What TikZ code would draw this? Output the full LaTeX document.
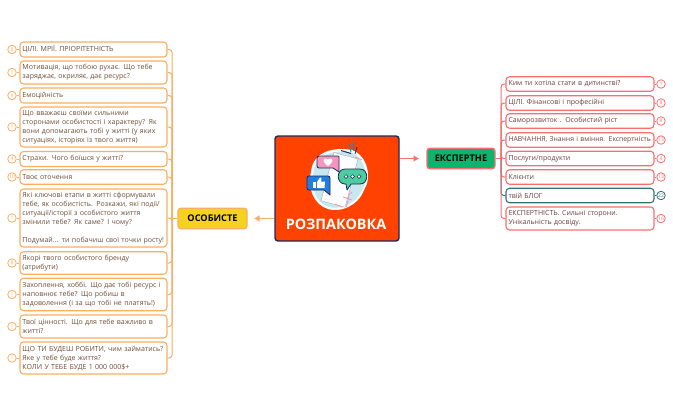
\documentclass[tikz,border=0pt]{standalone}
\usepackage{fontspec}
\setmainfont{Open Sans}
\usetikzlibrary{arrows.meta}
\definecolor{orl}{HTML}{F9AE62}
\definecolor{rdl}{HTML}{F96F6F}
\definecolor{tealn}{HTML}{2F7472}
\definecolor{txl}{HTML}{6E4E38}
\definecolor{txr}{HTML}{703E40}
\definecolor{navy}{HTML}{1B2A5A}
\definecolor{centerfill}{RGB}{255,66,0}
\definecolor{yel}{RGB}{245,210,30}
\definecolor{grn}{RGB}{12,180,110}
\definecolor{blu}{RGB}{35,125,225}
\definecolor{mint}{RGB}{75,205,160}
\definecolor{pinkb}{RGB}{245,150,190}
\definecolor{blob}{RGB}{200,232,240}
\definecolor{swirl}{RGB}{245,150,180}
\tikzset{x=1pt,y=-1pt,
 leaf/.style={draw=#1,fill=white,line width=1.1pt,rounded corners=3.5pt,inner xsep=2.5pt,inner ysep=0pt,align=left,
   font=\fontsize{7}{9}\selectfont,anchor=center},
 leafl/.style={leaf=orl,text=txl,text width=142pt},
 leafr/.style={leaf=rdl,text=txr,text width=143pt},
 badge/.style={circle,draw=#1,fill=white,line width=.8pt,minimum size=8.5pt,inner sep=0pt,text=#1,font=\fontsize{5}{5}\selectfont},
 conn/.style={draw=#1,line width=1pt,rounded corners=3pt},
 mainarrow/.style={draw=#1,line width=1.1pt,-{Latex[length=5.5pt,width=7pt]}},
 topic/.style={draw=#1,line width=1.4pt,rounded corners=3pt,minimum height=20.5pt,inner sep=0pt,font=\fontsize{9.2}{11}\bfseries\selectfont,text=black},
 icn/.style={draw=navy,line width=.8pt,line join=round},
}
\newcommand{\lfL}[5]{%
 \node[leafl,minimum height=#3pt] (l#1) at (93.5,#2) {#5};
 \node[badge=orl] (bl#1) at (12,#2) {#4};
 \draw[conn=orl] (bl#1) -- (l#1);
 \draw[conn=orl] (l#1.east) -| (tl);
}
\newcommand{\lfR}[6][rdl]{%
 \node[leafr,draw=#1,minimum height=#4pt] (r#2) at (580,#3) {#6};
 \node[badge=#1] (br#2) at (661,#3) {#5};
 \draw[conn=#1] (br#2) -- (r#2);
 \draw[conn=#1] (r#2.west) -| (tr);
}
\begin{document}
\begin{tikzpicture}
\useasboundingbox (0,0) rectangle (673,416);
\fill[white] (0,0) rectangle (673,416);
% central
\node[draw=navy,line width=1.4pt,rounded corners=3pt,fill=centerfill,minimum width=124pt,minimum height=105pt,inner sep=0pt] (c) at (337,188.5) {};
\node[text=white,font=\fontsize{14.4}{16}\bfseries\selectfont,inner sep=0pt] (ct) at (336,224) {РОЗПАКОВКА};
% icon
\fill[white] (311,172) .. controls (313,150) and (336,147) .. (352,150) .. controls (368,156) and (372,178) .. (364,190) .. controls (358,206) and (340,213) .. (328,209) .. controls (314,205) and (307,188) .. (311,172) -- cycle;
\fill[blob] (313.5,172) .. controls (315,153) and (336,150) .. (350,152) .. controls (366,158) and (370,178) .. (362,190) .. controls (356,204) and (340,210) .. (329,207) .. controls (316,203) and (310,188) .. (313.5,172) -- cycle;
\filldraw[draw=gray!60!blob,line width=.4pt,fill=white,rotate around={-15:(340,180)}] (327,155) rectangle (352,205);
\draw[navy,line width=1pt] (341,150.5) -- (351,153.5);
\draw[cyan!70!blue,line width=1pt] (351,152) -- (349,143) (354,151) -- (353,142);
\draw[navy,line width=.7pt] (355,154) -- (357,147);
\draw[swirl,line width=.8pt] (346,207) .. controls (350,200) and (346,196) .. (352,192) (343,197) -- (352,200) (335,204) -- (342,207);
\draw[swirl,line width=.8pt] (355,157) -- (362,160);
% pink bubble
\filldraw[icn,fill=pinkb] (319,156) -- (338,156) .. controls (339,156) and (339,157) .. (339,158) -- (339,172) -- (333,168) -- (319,168) .. controls (318,168) and (317,167) .. (317,166) -- (317,158) .. controls (317,157) and (318,156) .. (319,156) -- cycle;
\fill[white] (328,166) .. controls (322,162) and (323,158.5) .. (325.5,158.5) .. controls (327,158.5) and (328,160) .. (328,160) .. controls (328,160) and (329,158.5) .. (330.5,158.5) .. controls (333,158.5) and (334,162) .. (328,166) -- cycle;
% blue bubble
\filldraw[icn,fill=blu] (309,176) -- (328,176) .. controls (329,176) and (330,177) .. (330,178) -- (330,195) -- (324,190) -- (309,190) .. controls (308,190) and (307,189) .. (307,188) -- (307,178) .. controls (307,177) and (308,176) .. (309,176) -- cycle;
\fill[white] (313,182) rectangle (316,188);
\fill[white] (317,182) -- (320,177.5) -- (321.5,178) -- (321,181.5) -- (325,181.5) -- (324.5,188) -- (317,188) -- cycle;
% green bubble
\filldraw[icn,fill=mint] (345,169) -- (360,169) .. controls (369,169) and (369,184) .. (360,184) -- (351,184) -- (347,190) -- (346,184) -- (345,184) .. controls (336,184) and (336,169) .. (345,169) -- cycle;
\foreach \px in {346,352.5,359}{\filldraw[navy,line width=.5pt,fill=white] (\px,176.5) circle (1.9);}
% topics
\node[topic=orl,minimum width=69pt,fill=yel] (os) at (212.5,218.5) {ОСОБИСТЕ};
\node[topic=rdl,minimum width=68pt,fill=grn] (ex) at (461,158.5) {ЕКСПЕРТНЕ};
\coordinate (al) at (254,218.5);
\coordinate (ar) at (419,158.5);
\draw[mainarrow=orl] (c.west |- al) -- (al);
\draw[mainarrow=rdl] (c.east |- ar) -- (ar);
\coordinate (tl) at (172,218.5);
\coordinate (tr) at (501,158.5);
\draw[conn=orl] (os.west) -- (tl);
\draw[conn=rdl] (ex.east) -- (tr);
% left
\lfL{1}{49.5}{15}{8}{ЦІЛІ. МРІЇ. ПРІОРІТЕТНІСТЬ}
\lfL{2}{72.5}{23}{1}{Мотивація, що тобою рухає. Що тебе\\заряджає, окриляє, дає ресурс?}
\lfL{3}{95.5}{15}{4}{Емоційність}
\lfL{4}{127}{40}{1}{Що вважаєш своїми сильними\\сторонами особистості і характеру? Як\\вони допомагають тобі у житті (у яких\\ситуаціях, історіях із твого життя)}
\lfL{5}{159}{15}{4}{Страхи. Чого боїшся у житті?}
\lfL{6}{177}{14.5}{10}{Твоє оточення}
\lfL{7}{218}{58}{1}{Які ключові етапи в житті сформували\\тебе, як особистість. Розкажи, які події/\\ситуації/історії з особистого життя\\змінили тебе? Як саме? І чому?\\[9pt]Подумай... ти побачиш свої точки росту!}
\lfL{8}{263}{22.5}{8}{Якорі твого особистого бренду\\(атрибути)}
\lfL{9}{294.5}{32.5}{1}{Захоплення, хоббі. Що дає тобі ресурс і\\наповнює тебе? Що робиш в\\задоволення (і за що тобі не платять!)}
\lfL{10}{326.5}{23}{1}{Твої цінності. Що для тебе важливо в\\житті?}
\lfL{11}{358}{32}{1}{ЩО ТИ БУДЕШ РОБИТИ, чим займатись?\\Яке у тебе буде життя?\\КОЛИ У ТЕБЕ БУДЕ 1 000 000\$+}
% right
\lfR{1}{84}{14.5}{1}{Ким ти хотіла стати в дитинстві?}
\lfR{2}{103}{14.5}{8}{ЦІЛІ. Фінансові і професійні}
\lfR{3}{121}{14.5}{8}{Саморозвиток . Особистий ріст}
\lfR{4}{140}{14.5}{13}{\mbox{\fontsize{6.8}{9}\selectfont НАВЧАННЯ, Знання і вміння. Експертність}}
\lfR{5}{158.5}{14.5}{4}{Послуги/продукти}
\lfR{6}{177}{14.5}{13}{Клієнти}
\lfR[tealn]{7}{195.5}{14.5}{22}{твій БЛОГ}
\lfR{8}{218.5}{23}{16}{ЕКСПЕРТНІСТЬ. Сильні сторони.\\Унікальність досвіду.}
\end{tikzpicture}
\end{document}
